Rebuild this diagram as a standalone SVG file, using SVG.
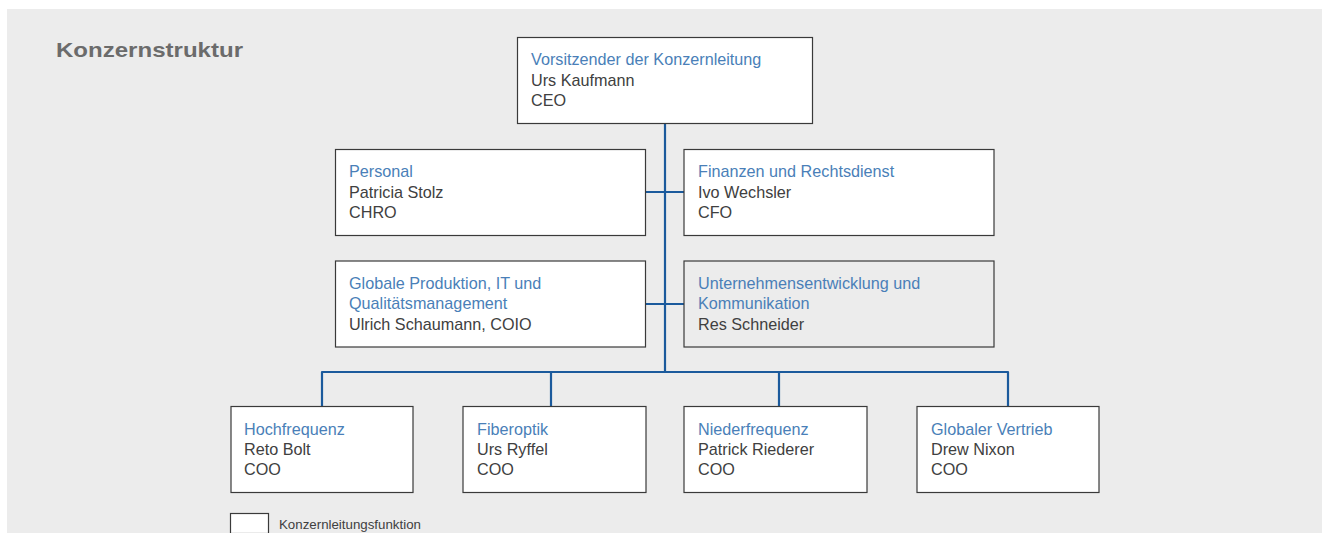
<svg xmlns="http://www.w3.org/2000/svg" width="1322" height="533" viewBox="0 0 1322 533">
<style>
.box{fill:#ffffff;stroke:#3a3a3a;stroke-width:1.2}
.box2{fill:#ececec;stroke:#3a3a3a;stroke-width:1.2}
.t{font-family:"Liberation Sans",Arial,sans-serif;font-size:16.2px;fill:#404040}
.h{fill:#4a7fb8}
.con{fill:none;stroke:#1b5a9c;stroke-width:2.2;stroke-linejoin:round}
</style>
<rect x="0" y="0" width="1322" height="533" fill="#ffffff"/>
<rect x="7" y="9" width="1315" height="524" fill="#ececec"/>
<text x="56" y="56.5" font-family="Liberation Sans,Arial,sans-serif" font-weight="bold" font-size="20.5" fill="#6b6b6b" textLength="187" lengthAdjust="spacingAndGlyphs">Konzernstruktur</text>
<g id="connectors">
<path class="con" d="M665,124 V372"/>
<path class="con" d="M646,192 H684"/>
<path class="con" d="M646,304 H684"/>
<path class="con" d="M322,406 V372 H1008 V406"/>
<path class="con" d="M551,372 V406"/>
<path class="con" d="M779,372 V406"/>
</g>
<g id="ceo">
<rect class="box" x="517.5" y="37.5" width="295" height="86"/>
<text class="t" x="531" y="65"><tspan class="h">Vorsitzender der Konzernleitung</tspan><tspan x="531" y="85.5">Urs Kaufmann</tspan><tspan x="531" y="106">CEO</tspan></text>
</g>
<g id="personal">
<rect class="box" x="335.5" y="149.5" width="310" height="86"/>
<text class="t" x="349" y="177"><tspan class="h">Personal</tspan><tspan x="349" y="197.5">Patricia Stolz</tspan><tspan x="349" y="218">CHRO</tspan></text>
</g>
<g id="finanzen">
<rect class="box" x="684" y="149.5" width="310" height="86"/>
<text class="t" x="698" y="177"><tspan class="h">Finanzen und Rechtsdienst</tspan><tspan x="698" y="197.5">Ivo Wechsler</tspan><tspan x="698" y="218">CFO</tspan></text>
</g>
<g id="produktion">
<rect class="box" x="335.5" y="261" width="310" height="86"/>
<text class="t" x="349" y="288.5"><tspan class="h">Globale Produktion, IT und</tspan><tspan class="h" x="349" y="309">Qualitätsmanagement</tspan><tspan x="349" y="329.5">Ulrich Schaumann, COIO</tspan></text>
</g>
<g id="unternehmensentwicklung">
<rect class="box2" x="684" y="261" width="310" height="86"/>
<text class="t" x="698" y="288.5"><tspan class="h">Unternehmensentwicklung und</tspan><tspan class="h" x="698" y="309">Kommunikation</tspan><tspan x="698" y="329.5">Res Schneider</tspan></text>
</g>
<g id="hochfrequenz">
<rect class="box" x="231" y="406.5" width="182" height="86"/>
<text class="t" x="244" y="434.5"><tspan class="h">Hochfrequenz</tspan><tspan x="244" y="454.5">Reto Bolt</tspan><tspan x="244" y="475">COO</tspan></text>
</g>
<g id="fiberoptik">
<rect class="box" x="463" y="406.5" width="183" height="86"/>
<text class="t" x="477" y="434.5"><tspan class="h">Fiberoptik</tspan><tspan x="477" y="454.5">Urs Ryffel</tspan><tspan x="477" y="475">COO</tspan></text>
</g>
<g id="niederfrequenz">
<rect class="box" x="684" y="406.5" width="183" height="86"/>
<text class="t" x="698" y="434.5"><tspan class="h">Niederfrequenz</tspan><tspan x="698" y="454.5">Patrick Riederer</tspan><tspan x="698" y="475">COO</tspan></text>
</g>
<g id="vertrieb">
<rect class="box" x="917" y="406.5" width="182" height="86"/>
<text class="t" x="931" y="434.5"><tspan class="h">Globaler Vertrieb</tspan><tspan x="931" y="454.5">Drew Nixon</tspan><tspan x="931" y="475">COO</tspan></text>
</g>
<g id="legend">
<rect class="box" x="230.5" y="513.5" width="38" height="20"/>
<text x="279" y="528.5" font-family="Liberation Sans,Arial,sans-serif" font-size="13.3" fill="#404040">Konzernleitungsfunktion</text>
</g>
</svg>
